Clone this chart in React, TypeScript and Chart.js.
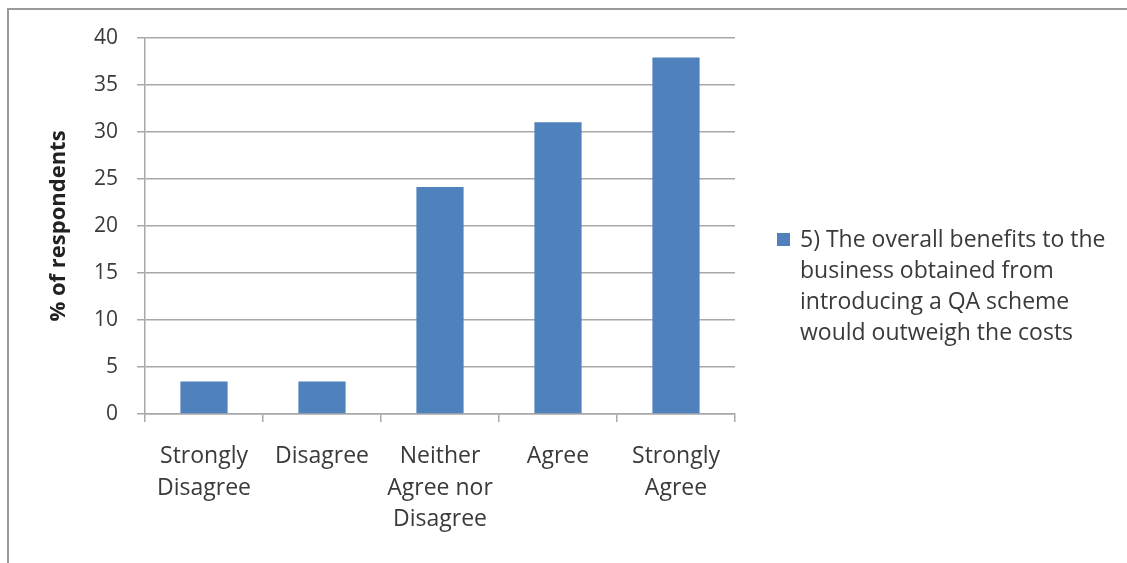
import React, { useEffect, useRef } from "react";
import { Chart, registerables } from "chart.js";

Chart.register(...registerables);

const categories: (string | string[])[] = [
  ["Strongly", "Disagree"],
  "Disagree",
  ["Neither", "Agree nor", "Disagree"],
  "Agree",
  ["Strongly", "Agree"],
];
const seriesValues: number[] = [3.45, 3.45, 24.14, 31.03, 37.93];
const seriesLabel: string[] = [
  "5) The overall benefits to the",
  "business obtained from",
  "introducing a QA scheme",
  "would outweigh the costs",
];
const yAxisTitle = "% of respondents";
const yTicks = { min: 0, max: 40, step: 5 };

const FONT = "'Open Sans', Lato, sans-serif";
const TEXT = "#3a3a3a";
const BAR = "#4F81BD";

const legendPlugin = {
  id: "wrappedLegend",
  afterDraw(chart: any) {
    const { ctx, chartArea, height } = chart;
    const lines: string[] = chart.data.datasets[0].labelLines || [];
    const lh = 31;
    const cy = height / 2;
    const firstY = cy - ((lines.length - 1) * lh) / 2;
    const boxX = chartArea.right + 42;
    const textX = chartArea.right + 65;
    ctx.save();
    ctx.fillStyle = chart.data.datasets[0].backgroundColor;
    ctx.fillRect(boxX, firstY - 7, 13, 13);
    ctx.fillStyle = TEXT;
    ctx.font = `23px ${FONT}`;
    ctx.textBaseline = "middle";
    ctx.textAlign = "left";
    lines.forEach((l, i) => ctx.fillText(l, textX, firstY + i * lh));
    ctx.restore();
  },
};

export default function App() {
  const ref = useRef<HTMLCanvasElement | null>(null);
  useEffect(() => {
    document.body.style.overflow = "hidden";
    if (!ref.current) return;
    const chart = new Chart(ref.current, {
      type: "bar",
      data: {
        labels: categories,
        datasets: [
          {
            label: seriesLabel.join(" "),
            labelLines: seriesLabel,
            data: seriesValues,
            backgroundColor: BAR,
            borderWidth: 0,
            barPercentage: 0.4,
            categoryPercentage: 1,
          } as any,
        ],
      },
      options: {
        animation: false,
        responsive: false,
        maintainAspectRatio: false,
        layout: { padding: { left: 0, right: 392, top: 28, bottom: 0 } },
        plugins: {
          legend: { display: false },
          tooltip: { enabled: false },
        },
        scales: {
          x: {
            offset: true,
            grid: {
              offset: true,
              drawOnChartArea: false,
              drawTicks: true,
              tickLength: 8,
              color: "#a8a8a8",
              lineWidth: 1.5,
            },
            border: { color: "#a8a8a8", width: 1.5 },
            ticks: {
              color: TEXT,
              font: { family: FONT, size: 23, lineHeight: 1.39 },
              padding: 18,
              maxRotation: 0,
              autoSkip: false,
            },
            afterFit(scale: any) {
              scale.height = 149;
            },
          },
          y: {
            min: yTicks.min,
            max: yTicks.max,
            ticks: {
              stepSize: yTicks.step,
              color: TEXT,
              font: { family: FONT, size: 21 },
              padding: 19,
            },
            grid: { color: "#a8a8a8", lineWidth: 1.5, tickLength: 8 },
            border: { color: "#a8a8a8", width: 1.5 },
            title: {
              display: true,
              text: yAxisTitle,
              color: "#222",
              font: { family: FONT, size: 22, weight: "bold" },
              padding: { top: 37, bottom: 0 },
            },
            afterFit(scale: any) {
              scale.width = 136;
              scale.paddingTop = 0;
              scale.paddingBottom = 0;
            },
          },
        },
      },
      plugins: [legendPlugin],
    });
    return () => chart.destroy();
  }, []);

  return (
    <div
      style={{
        position: "fixed",
        left: 7,
        top: 8,
        width: 1130,
        height: 560,
        borderLeft: "2px solid #9a9a9a",
        borderTop: "2px solid #9a9a9a",
        background: "#fff",
      }}
    >
      <canvas ref={ref} width={1118} height={553} style={{ display: "block" }} />
    </div>
  );
}
